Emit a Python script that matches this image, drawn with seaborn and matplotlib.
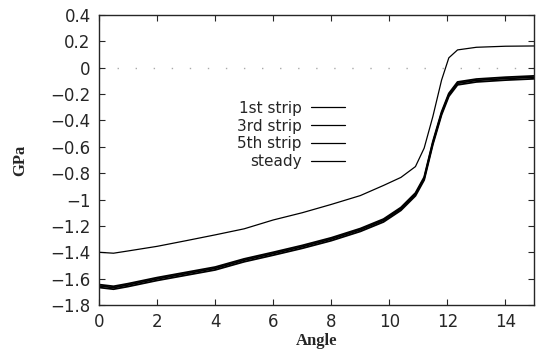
import pandas as pd
import matplotlib
matplotlib.use('Agg')
import matplotlib.pyplot as plt
import matplotlib.ticker as mticker
import seaborn as sns

# angle samples
angle = [0, 0.5, 1, 2, 3, 4, 5, 6, 7, 8, 9, 9.8, 10.4, 10.9, 11.2, 11.5, 11.8, 12.05, 12.35, 13, 14, 15]

# upper curve (thin)
first_strip = [-1.40, -1.407, -1.39, -1.355, -1.312, -1.268, -1.222, -1.155, -1.10, -1.037, -0.97, -0.893,
               -0.832, -0.75, -0.61, -0.37, -0.094, 0.075, 0.135, 0.155, 0.163, 0.165]
# lower three curves, nearly on top of each other
third_strip = [-1.645, -1.658, -1.638, -1.592, -1.552, -1.512, -1.45, -1.40, -1.348, -1.29, -1.22, -1.148,
               -1.06, -0.95, -0.83, -0.56, -0.335, -0.195, -0.108, -0.086, -0.072, -0.062]
fifth_strip = [-1.655, -1.668, -1.648, -1.602, -1.562, -1.522, -1.46, -1.41, -1.358, -1.30, -1.23, -1.158,
               -1.07, -0.96, -0.84, -0.57, -0.345, -0.205, -0.118, -0.096, -0.082, -0.072]
steady = [-1.667, -1.68, -1.66, -1.614, -1.574, -1.534, -1.472, -1.422, -1.37, -1.312, -1.242, -1.17,
          -1.082, -0.972, -0.852, -0.582, -0.357, -0.217, -0.13, -0.108, -0.094, -0.084]

labels = ['1st strip', '3rd strip', '5th strip', 'steady']

df = pd.DataFrame({'Angle': angle * 4,
                   'GPa': first_strip + third_strip + fifth_strip + steady,
                   'series': sum([[l] * len(angle) for l in labels], [])})

sns.set_style('ticks')
plt.rcParams['font.family'] = ['DejaVu Sans']

fig = plt.figure(figsize=(5.43, 3.55), dpi=100)
ax = fig.add_axes([0.1823, 0.1408, 0.802, 0.817])

sns.lineplot(data=df, x='Angle', y='GPa', hue='series',
             palette=['black'] * 4, size='series', sizes=[0.9, 1.3, 1.3, 1.3],
             ax=ax, legend=True)

# dotted zero line
ax.axhline(0, color='#aaaaaa', linestyle=(0, (1, 12)), linewidth=1.0, zorder=0)

ax.set_xlim(0, 15)
ax.set_ylim(-1.8, 0.4)
ax.xaxis.set_major_locator(mticker.MultipleLocator(2))
ax.yaxis.set_major_locator(mticker.MultipleLocator(0.2))
ax.yaxis.set_major_formatter(mticker.FuncFormatter(lambda v, p: ('%g' % round(v, 2)).replace('-', '\u2212')))
ax.tick_params(direction='in', top=True, right=True, labelsize=12, length=4, width=0.8)
ax.tick_params(axis='x', pad=6)
ax.tick_params(axis='y', pad=6)
for s in ax.spines.values():
    s.set_linewidth(1.0)

ax.set_xlabel('Angle', family=['Liberation Serif'], fontsize=12, fontweight='bold', labelpad=1)
ax.set_ylabel('GPa', family=['Liberation Serif'], fontsize=12, fontweight='bold', labelpad=16)

handles, lbls = ax.get_legend_handles_labels()
for h in handles:
    h.set_linewidth(0.9)
ax.legend(handles, lbls, loc='upper right', bbox_to_anchor=(0.565, 0.704), frameon=False,
          markerfirst=False, fontsize=11, handlelength=2.2, labelspacing=0.18,
          handletextpad=0.65, borderpad=0, borderaxespad=0)

fig.savefig('out.png', dpi=100)
